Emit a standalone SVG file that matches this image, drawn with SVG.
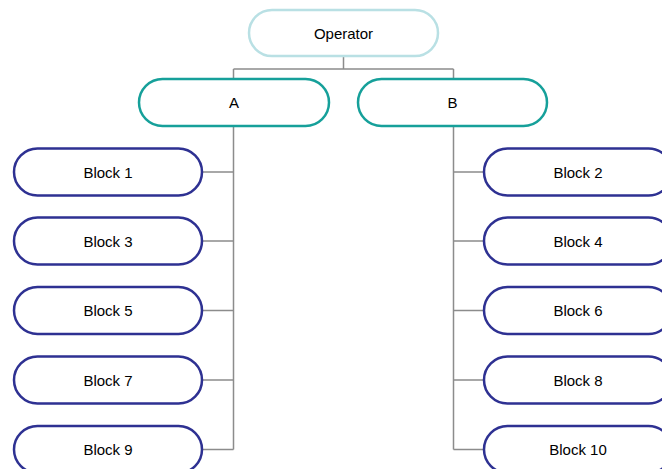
<svg xmlns="http://www.w3.org/2000/svg" width="662" height="469" viewBox="0 0 662 469">
  <style>
    .lbl { font-family: "Liberation Sans", Arial, sans-serif; font-size: 15px; fill: #000; text-anchor: middle; dominant-baseline: central; }
    .root { fill: #fff; stroke: #b9e0e4; stroke-width: 2.5; }
    .mid { fill: #fff; stroke: #16a09a; stroke-width: 2.5; }
    .leaf { fill: #fff; stroke: #2e3192; stroke-width: 2.5; }
    .wire { fill: none; stroke: #8c8c8c; stroke-width: 1.5; }
  </style>
  <g id="connectors">
    <path class="wire" d="M343.5 56 V69 M233.5 69 H453.5 M233.5 69 V79 M453.5 69 V79"/>
    <path class="wire" d="M233.5 126 V449.5 M202 172 H233.5 M202 241 H233.5 M202 310.5 H233.5 M202 380 H233.5 M202 449.5 H233.5"/>
    <path class="wire" d="M453.5 126 V449.5 M453.5 172 H484 M453.5 241 H484 M453.5 310.5 H484 M453.5 380 H484 M453.5 449.5 H484"/>
  </g>
  <g id="operator">
    <rect class="root" x="249" y="10" width="189" height="46" rx="23"/>
    <text class="lbl" x="343.5" y="33">Operator</text>
  </g>
  <g id="a">
    <rect class="mid" x="139" y="79" width="190" height="47" rx="23.5"/>
    <text class="lbl" x="234" y="102.5">A</text>
  </g>
  <g id="b">
    <rect class="mid" x="358" y="79" width="189" height="47" rx="23.5"/>
    <text class="lbl" x="452.5" y="102.5">B</text>
  </g>
  <g id="block1">
    <rect class="leaf" x="14" y="148.5" width="188" height="47" rx="23.5"/>
    <text class="lbl" x="108" y="172">Block 1</text>
  </g>
  <g id="block3">
    <rect class="leaf" x="14" y="217.5" width="188" height="47" rx="23.5"/>
    <text class="lbl" x="108" y="241">Block 3</text>
  </g>
  <g id="block5">
    <rect class="leaf" x="14" y="287" width="188" height="47" rx="23.5"/>
    <text class="lbl" x="108" y="310.5">Block 5</text>
  </g>
  <g id="block7">
    <rect class="leaf" x="14" y="356.5" width="188" height="47" rx="23.5"/>
    <text class="lbl" x="108" y="380">Block 7</text>
  </g>
  <g id="block9">
    <rect class="leaf" x="14" y="426" width="188" height="47" rx="23.5"/>
    <text class="lbl" x="108" y="449.5">Block 9</text>
  </g>
  <g id="block2">
    <rect class="leaf" x="484" y="148.5" width="188" height="47" rx="23.5"/>
    <text class="lbl" x="578" y="172">Block 2</text>
  </g>
  <g id="block4">
    <rect class="leaf" x="484" y="217.5" width="188" height="47" rx="23.5"/>
    <text class="lbl" x="578" y="241">Block 4</text>
  </g>
  <g id="block6">
    <rect class="leaf" x="484" y="287" width="188" height="47" rx="23.5"/>
    <text class="lbl" x="578" y="310.5">Block 6</text>
  </g>
  <g id="block8">
    <rect class="leaf" x="484" y="356.5" width="188" height="47" rx="23.5"/>
    <text class="lbl" x="578" y="380">Block 8</text>
  </g>
  <g id="block10">
    <rect class="leaf" x="484" y="426" width="188" height="47" rx="23.5"/>
    <text class="lbl" x="578" y="449.5">Block 10</text>
  </g>
</svg>
